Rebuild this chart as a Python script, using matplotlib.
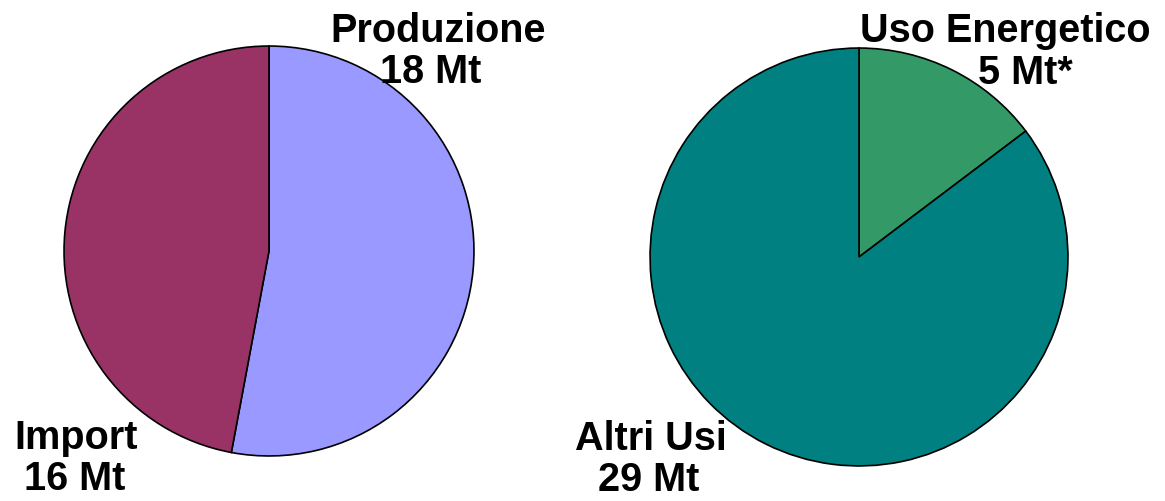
import matplotlib
matplotlib.use("Agg")
import matplotlib.pyplot as plt

plt.rcParams["font.family"] = ["Liberation Sans", "DejaVu Sans"]

# Left pie: sources
src_labels = ["Produzione", "Import"]
src_values = [18, 16]
src_colors = ["#9999FF", "#993366"]

# Right pie: uses
use_labels = ["Uso Energetico", "Altri Usi"]
use_values = [5, 29]
use_colors = ["#339966", "#008080"]

W, H = 1165, 502
fig = plt.figure(figsize=(W / 100, H / 100), dpi=100)


def pie_axes(cx, cy, r):
    # axes box in pixel coordinates, y measured from the top
    return fig.add_axes([(cx - r) / W, (H - cy - r) / H, 2 * r / W, 2 * r / H])


def draw_pie(ax, values, colors):
    ax.pie(values, colors=colors, startangle=90, counterclock=False,
           radius=1.0, wedgeprops=dict(edgecolor="black", linewidth=1.2))
    ax.set_xlim(-1.005, 1.005)
    ax.set_ylim(-1.005, 1.005)
    ax.set_aspect("auto")
    ax.axis("off")


ax1 = pie_axes(269, 252, 206)
draw_pie(ax1, src_values, src_colors)

ax2 = pie_axes(859, 258, 210)
draw_pie(ax2, use_values, use_colors)


def label(x, y, s):
    # x = horizontal centre, y = baseline, both in pixels from top-left
    fig.text(x / W, 1 - y / H, s, ha="center", va="baseline",
             fontsize=28.5, fontweight="bold", color="black")


label(438, 42, src_labels[0])
label(431, 83, f"{src_values[0]} Mt")
label(76, 449, src_labels[1])
label(75, 490, f"{src_values[1]} Mt")

label(1005, 42, use_labels[0])
label(1025, 84, f"{use_values[0]} Mt*")
label(651, 450, use_labels[1])
label(649, 491, f"{use_values[1]} Mt")

fig.savefig("out.png", dpi=100, facecolor="white")
